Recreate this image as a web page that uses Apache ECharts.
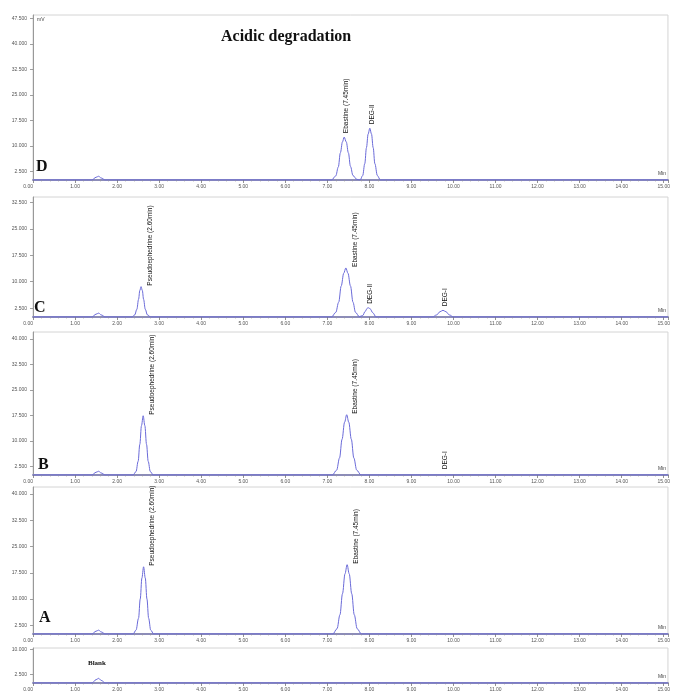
<!DOCTYPE html>
<html><head><meta charset="utf-8">
<script src="https://cdn.jsdelivr.net/npm/echarts@6/dist/echarts.min.js"></script>
<style>html,body{margin:0;padding:0;background:#fff}#c{width:673px;height:696px}</style>
</head><body><div id="c"></div>
<script>
// ---------- data (time in min, signal in mV) ----------
const yTickValuesD = [2.5, 10, 17.5, 25, 32.5, 40, 47.5];
const yTickValuesC = [2.5, 10, 17.5, 25, 32.5];
const yTickValuesB = [2.5, 10, 17.5, 25, 32.5, 40];
const yTickValuesA = [2.5, 10, 17.5, 25, 32.5, 40];
const yTickValuesBlank = [2.5, 10];

const chromD = [[0,0],[1.40,0],[1.50,0.8],[1.56,1.1],[1.62,0.6],[1.72,0],
  [7.10,0],[7.20,1.2],[7.26,3.8],[7.31,8.0],[7.36,11.2],[7.40,12.6],[7.45,11.2],[7.50,8.0],[7.55,4.0],[7.61,1.3],[7.70,0.2],
  [7.78,0],[7.84,1.3],[7.89,4.8],[7.93,9.5],[7.97,13.5],[8.01,15.2],[8.05,13.5],[8.09,9.5],[8.13,4.8],[8.19,1.3],[8.26,0],[15.1,0]];
const chromC = [[0,0],[1.40,0],[1.50,0.8],[1.56,1.1],[1.62,0.6],[1.72,0],
  [2.35,0],[2.42,0.6],[2.47,2.2],[2.51,5.0],[2.54,7.5],[2.57,8.6],[2.60,7.5],[2.63,5.0],[2.67,2.2],[2.72,0.6],[2.80,0],
  [7.10,0],[7.20,1.3],[7.27,4.2],[7.33,8.8],[7.39,12.4],[7.44,13.9],[7.49,12.4],[7.55,8.8],[7.61,4.2],[7.67,1.3],[7.76,0.1],
  [7.84,0.4],[7.90,1.6],[7.95,2.5],[7.98,2.6],[8.02,2.3],[8.08,1.2],[8.16,0],
  [9.50,0],[9.60,0.6],[9.68,1.5],[9.75,1.9],[9.82,1.5],[9.90,0.6],[10.00,0],[15.1,0]];
const chromB = [[0,0],[1.40,0],[1.50,0.8],[1.56,1.1],[1.62,0.6],[1.72,0],
  [2.38,0],[2.45,1.0],[2.50,4.0],[2.54,9.0],[2.58,14.5],[2.62,17.4],[2.66,14.5],[2.70,9.0],[2.74,4.0],[2.79,1.0],[2.86,0],
  [7.12,0],[7.22,1.4],[7.29,5.0],[7.35,10.5],[7.41,15.5],[7.46,17.7],[7.51,15.5],[7.57,10.5],[7.63,5.0],[7.70,1.4],[7.80,0],[15.1,0]];
const chromA = [[0,0],[1.40,0],[1.50,0.8],[1.56,1.1],[1.62,0.6],[1.72,0],
  [2.38,0],[2.45,1.1],[2.51,4.5],[2.55,10.0],[2.59,16.0],[2.63,19.2],[2.67,16.0],[2.71,10.0],[2.75,4.5],[2.80,1.1],[2.87,0],
  [7.13,0],[7.23,1.5],[7.30,5.5],[7.36,11.5],[7.42,17.2],[7.47,19.8],[7.52,17.2],[7.58,11.5],[7.64,5.5],[7.71,1.5],[7.81,0],[15.1,0]];
const chromBlank = [[0,0],[1.40,0],[1.50,1.0],[1.56,1.4],[1.62,0.8],[1.72,0],[15.1,0]];

// peak labels: [text, time, height]
const peaksD = [['Ebastine (7.45min)', 7.40, 12.6], ['DEG-II', 8.01, 15.2]];
const peaksC = [['Pseudoephedrine (2.60min)', 2.57, 8.6], ['Ebastine (7.45min)', 7.44, 13.9], ['DEG-II', 7.98, 2.6], ['DEG-I', 9.75, 1.9]];
const peaksB = [['Pseudoephedrine (2.60min)', 2.62, 17.4], ['Ebastine (7.45min)', 7.46, 17.7], ['DEG-I', 9.75, 0.5]];
const peaksA = [['Pseudoephedrine (2.60min)', 2.63, 19.2], ['Ebastine (7.45min)', 7.47, 19.8]];
const peaksBlank = [];

const panelLetters = ['D', 'C', 'B', 'A', 'Blank'];
const chartTitle = 'Acidic degradation';

// ---------- layout / styles ----------
const panels = [
  {data: chromD, peaks: peaksD, yTicks: yTickValuesD, top: 15, height: 165, max: 48.5, centered: true},
  {data: chromC, peaks: peaksC, yTicks: yTickValuesC, top: 197, height: 120, max: 34, centered: false},
  {data: chromB, peaks: peaksB, yTicks: yTickValuesB, top: 332, height: 143, max: 42, centered: false},
  {data: chromA, peaks: peaksA, yTicks: yTickValuesA, top: 487, height: 147, max: 42, centered: false},
  {data: chromBlank, peaks: peaksBlank, yTicks: yTickValuesBlank, top: 648, height: 35, max: 10.5, centered: true}
];
const LINE = '#6a6ad8';
const LEFT = 33, RIGHT = 5;

const grid = [], xAxis = [], yAxis = [], series = [];
panels.forEach((p, i) => {
  grid.push({left: LEFT, right: RIGHT, top: p.top, height: p.height, show: true,
    borderColor: '#d4d4d4', borderWidth: 1, backgroundColor: 'transparent', containLabel: false});
  xAxis.push({type: 'value', gridIndex: i, min: 0, max: 15.1, interval: 1,
    name: 'Min', nameLocation: 'end', nameGap: -2,
    nameTextStyle: {fontSize: 5, color: '#444', align: 'right', verticalAlign: 'bottom', padding: [0, 0, 4, 0]},
    axisLine: {show: true, onZero: false, lineStyle: {color: '#8c8cb8', width: 2}},
    axisTick: {show: true, length: 3, lineStyle: {color: '#777', width: 0.8}},
    minorTick: {show: true, splitNumber: 5, length: 1.5, lineStyle: {color: '#999', width: 0.6}},
    axisLabel: {fontSize: 5, color: '#555', margin: 4, showMaxLabel: false, alignMinLabel: 'right',
      formatter: v => v.toFixed(2)},
    splitLine: {show: false}});
  yAxis.push({type: 'value', gridIndex: i, min: 0, max: p.max,
    axisLine: {show: true, onZero: false, lineStyle: {color: '#999', width: 1}},
    axisTick: {show: true, customValues: p.yTicks, length: 3, lineStyle: {color: '#888', width: 0.8}},
    axisLabel: {customValues: p.yTicks, fontSize: 5, color: '#555', margin: 6,
      formatter: v => v.toFixed(3)},
    splitLine: {show: false}});
  series.push({type: 'line', xAxisIndex: i, yAxisIndex: i, data: p.data,
    showSymbol: false, smooth: 0.35, smoothMonotone: 'x', silent: true, animation: false,
    lineStyle: {color: LINE, width: 1}, itemStyle: {color: LINE},
    markPoint: {symbol: 'circle', symbolSize: 0, animation: false, silent: true,
      itemStyle: {color: 'transparent'},
      data: p.peaks.map(pk => {
        const centered = p.centered || pk[0].indexOf('DEG') === 0;
        return {name: pk[0], coord: [pk[1], pk[2]],
          label: {offset: [centered ? 1 : -2, centered ? 2 : 9]}};
      }),
      label: {show: true, position: 'top', distance: 3, rotate: 90, align: 'left', verticalAlign: 'middle',
        formatter: '{b}', fontSize: 6.5, color: '#111', fontFamily: 'Liberation Sans'}
    }});
});

const letterPos = [[36, 159, 16], [34, 300, 16], [38, 457, 16], [39, 610, 16], [88, 660, 7]];
const graphic = panelLetters.map((t, i) => ({type: 'text', left: letterPos[i][0], top: letterPos[i][1],
  style: {text: t, font: 'bold ' + letterPos[i][2] + 'px "Liberation Serif"', fill: '#111'}}));
graphic.push({type: 'text', left: 37, top: 17, style: {text: 'mV', font: '5px "Liberation Sans"', fill: '#444'}});

const chart = echarts.init(document.getElementById('c'), null, {renderer: 'canvas'});
chart.setOption({
  backgroundColor: '#fff',
  animation: false,
  title: {text: chartTitle, left: 216, top: 24,
    textStyle: {fontFamily: 'Liberation Serif', fontWeight: 'bold', fontSize: 16, color: '#111'}},
  grid, xAxis, yAxis, series, graphic
});
</script></body></html>
